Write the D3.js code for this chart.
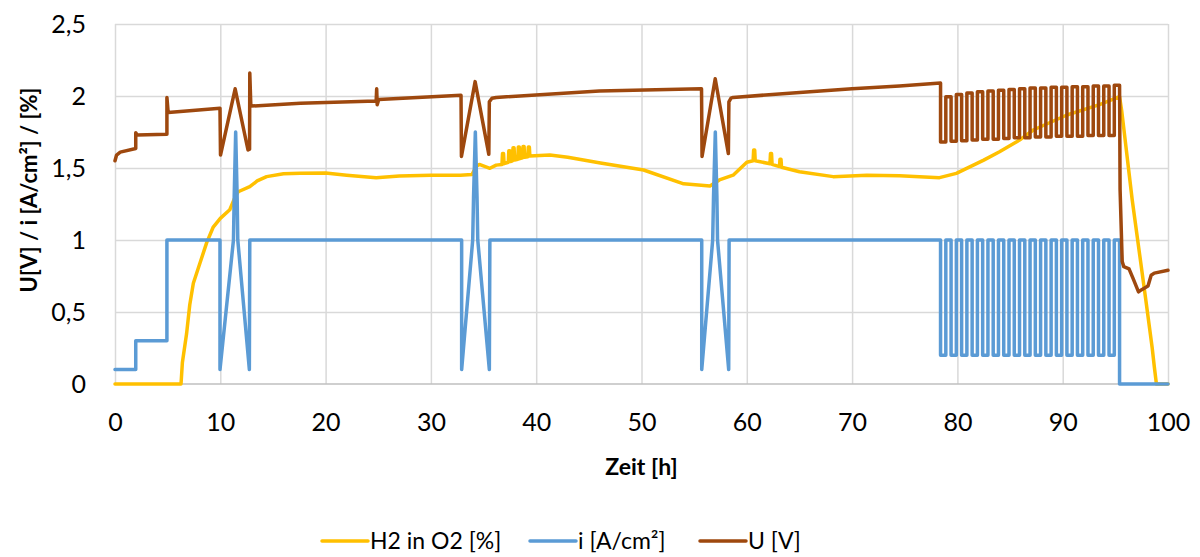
<!DOCTYPE html>
<html>
<head>
<meta charset="utf-8">
<script src="https://cdn.jsdelivr.net/npm/d3@7"></script>
<style>
  body { margin: 0; background: #fff; }
  svg text { font-family: Lato, 'Open Sans', sans-serif; fill: #000; }
  .grid line { stroke: #d9d9d9; stroke-width: 1.5px; }
  .grid .domain { display: none; }
  .series { fill: none; stroke-width: 3.5px; stroke-linejoin: round; stroke-linecap: round; }
</style>
</head>
<body>
<svg id="chart" width="1200" height="557"></svg>
<script>
// values, [time h, value]
const h2Points = [
  [0,0],[6.27,0],[6.4,0.15],[6.8,0.35],[7.1,0.55],[7.44,0.7],[8.07,0.84],[8.7,0.98],[9.33,1.09],[10,1.15],
  [10.9,1.21],[11.3,1.28],[11.7,1.335],[12.8,1.37],[13.5,1.41],[14.4,1.44],[16,1.46],[17.6,1.463],[20,1.465],
  [22,1.45],[24.8,1.433],[27,1.445],[30,1.45],[32.8,1.45],[33.9,1.455],[34.3,1.51],[34.6,1.525],[35.6,1.498],
  [36.2,1.52],[36.75,1.525],[36.8,1.6],[36.9,1.6],[36.95,1.53],[37.35,1.54],[37.4,1.62],[37.5,1.62],[37.55,1.545],
  [37.75,1.55],[37.8,1.64],[37.9,1.64],[37.95,1.555],[38.25,1.56],[38.3,1.645],[38.4,1.645],[38.45,1.565],
  [38.7,1.57],[38.75,1.65],[38.85,1.65],[38.9,1.575],[39.2,1.578],[39.25,1.645],[39.35,1.645],[39.4,1.583],
  [41.3,1.59],[43,1.575],[46.1,1.535],[50.2,1.486],[54,1.39],[56.5,1.375],[57.4,1.417],[58.7,1.45],[60,1.54],
  [60.6,1.55],[60.65,1.625],[60.75,1.625],[60.8,1.55],[62.2,1.53],[62.25,1.6],[62.35,1.6],[62.4,1.525],
  [63.1,1.51],[63.15,1.56],[63.25,1.56],[63.3,1.505],[65,1.474],[68.2,1.44],[71.4,1.45],[74.5,1.446],
  [78.3,1.433],[79.9,1.463],[82.5,1.555],[84,1.613],[85.9,1.694],[87.2,1.764],[90.4,1.868],[93.5,1.94],
  [95.4,1.995],[95.6,1.9],[96.6,1.28],[97.9,0.58],[98.5,0.25],[98.7,0.12],[98.9,0],[100,0]
];

const iPoints = [
  [0,0.1],[1.97,0.1],[1.97,0.3],[4.93,0.3],[4.93,1],[9.97,1],[9.97,0.1],[11.25,1],[11.32,1.3],[11.46,1.75],
  [11.6,1.3],[11.66,1],[12.76,0.1],[12.8,1],
  [32.92,1],[32.92,0.1],[33.97,1],[34.05,1.3],[34.22,1.75],[34.38,1.3],[34.45,1],[35.55,0.1],[35.6,1],
  [55.72,1],[55.72,0.1],[56.76,1],[56.84,1.3],[57.01,1.75],[57.16,1.3],[57.22,1],[58.28,0.1],[58.32,1],
  [78.4,1]
];
const iTail = [[95.4,0],[100,0]];

const uPoints = [
  [0,1.55],[0.15,1.59],[0.5,1.61],[1.97,1.635],[1.97,1.745],[2.1,1.73],[4.93,1.735],[4.93,1.99],[5.05,1.885],
  [9.97,1.915],[10.02,1.59],[11.41,2.05],[12.63,1.625],[12.78,1.63],[12.8,2.16],[12.9,1.93],[17.6,1.95],
  [24.8,1.965],[24.85,2.05],[24.9,1.94],[25.05,1.975],[32.86,2.005],[32.9,1.58],[34.2,2.1],[35.5,1.595],
  [35.55,1.96],[35.8,1.985],[36.2,1.99],[46,2.035],[55.7,2.05],[55.75,1.58],[57.0,2.12],[58.25,1.6],
  [58.3,1.96],[58.5,1.985],[58.7,1.99],[66,2.03],[70,2.05],[74.5,2.07],[78.4,2.09]
];
const uTail = [
  [95.45,1.35],[95.65,0.85],[95.8,0.815],[96.3,0.8],[96.7,0.73],[97.2,0.64],[97.5,0.655],[98.1,0.68],
  [98.4,0.755],[98.7,0.77],[100,0.79]
];

// load cycling at the end: each cycle 1 h, low half then high half
const cycleStart = [78.4,79.4,80.4,81.4,82.4,83.4,84.4,85.4,86.4,87.4,88.4,89.4,90.4,91.4,92.4,93.4,94.4];
const iLow  = [0.2,0.2,0.2,0.2,0.2,0.2,0.2,0.2,0.2,0.2,0.2,0.2,0.2,0.2,0.2,0.2,0.2];
const iHigh = [1,1,1,1,1,1,1,1,1,1,1,1,1,1,1,1,1];
const uLow  = [1.68,1.685,1.69,1.695,1.70,1.70,1.705,1.71,1.71,1.715,1.715,1.72,1.72,1.72,1.725,1.725,1.725];
const uHigh = [1.995,2.01,2.02,2.03,2.035,2.04,2.045,2.05,2.055,2.055,2.06,2.06,2.065,2.065,2.07,2.07,2.075];

const xTicks = [0,10,20,30,40,50,60,70,80,90,100];
const yTicks = [0,0.5,1,1.5,2,2.5];
const yTickLabels = ['0','0,5','1','1,5','2','2,5'];

const seriesNames = ['H2 in O2 [%]', 'i [A/cm²]', 'U [V]'];
const seriesColors = ['#FFC000', '#5B9BD5', '#9E480E'];

function wave(low, high) {
  const pts = [];
  cycleStart.forEach((s, k) => {
    pts.push([s, low[k]], [s + 0.5, low[k]], [s + 0.5, high[k]], [s + 1, high[k]]);
  });
  return pts;
}

const iSeries = iPoints.concat(wave(iLow, iHigh), iTail);
const uSeries = uPoints.concat(wave(uLow, uHigh), uTail);

const margin = {left: 115, right: 32, top: 24, bottom: 173};
const W = 1200 - margin.left - margin.right,
      H = 557 - margin.top - margin.bottom;

const svg = d3.select('#chart');
const g = svg.append('g').attr('transform', `translate(${margin.left},${margin.top})`);

const x = d3.scaleLinear().domain([0, 100]).range([0, W]);
const y = d3.scaleLinear().domain([0, 2.5]).range([H, 0]);

// grid + y labels
const yAxis = g.append('g').attr('class', 'grid')
  .call(d3.axisLeft(y).tickValues(yTicks).tickSize(-W).tickPadding(29)
    .tickFormat((d, i) => yTickLabels[i]));
yAxis.selectAll('text').style('font-size', '25px');
yAxis.selectAll('.tick').filter(d => d === 0).select('line').remove();

const xAxis = g.append('g').attr('class', 'grid')
  .attr('transform', `translate(0,${H})`)
  .call(d3.axisBottom(x).tickValues(xTicks).tickSize(-H).tickPadding(29));
xAxis.selectAll('text').style('font-size', '25px');

g.append('line')
  .attr('x1', 0).attr('x2', W).attr('y1', H).attr('y2', H)
  .attr('stroke', '#bfbfbf').attr('stroke-width', 1.5);

const line = d3.line().x(d => x(d[0])).y(d => y(d[1]));

[h2Points, iSeries, uSeries].forEach((data, k) => {
  g.append('path')
    .attr('class', 'series')
    .attr('stroke', seriesColors[k])
    .attr('stroke-width', k === 0 ? 4 : 3.5)
    .attr('d', line(data));
});

// axis titles
svg.append('text')
  .attr('x', margin.left + W / 2).attr('y', 475)
  .attr('text-anchor', 'middle')
  .style('font-size', '23px').style('font-weight', 'bold')
  .text('Zeit [h]');

svg.append('text')
  .attr('transform', 'translate(37,190) rotate(-90)')
  .attr('text-anchor', 'middle')
  .style('font-size', '22px').style('font-weight', 'bold')
  .text('U[V] / i [A/cm²] / [%]');

// legend
const legendX = [322, 530, 700];
const legend = svg.append('g');
seriesNames.forEach((name, k) => {
  legend.append('line')
    .attr('x1', legendX[k]).attr('x2', legendX[k] + 46)
    .attr('y1', 541).attr('y2', 541)
    .attr('stroke', seriesColors[k]).attr('stroke-width', 3.5)
    .attr('stroke-linecap', 'round');
  legend.append('text')
    .attr('x', legendX[k] + 48).attr('y', 541).attr('dy', '0.35em')
    .style('font-size', '23px')
    .text(name);
});
</script>
</body>
</html>
